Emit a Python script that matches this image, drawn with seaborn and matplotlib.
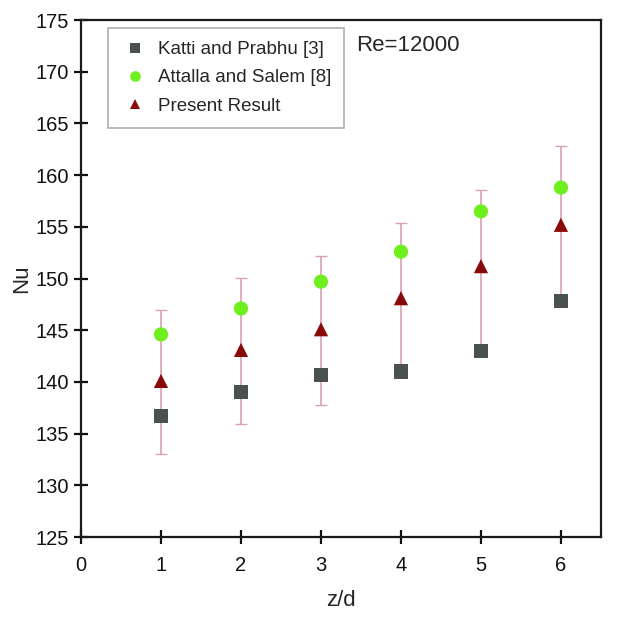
import matplotlib
matplotlib.use("Agg")
import matplotlib.pyplot as plt
import seaborn as sns
import pandas as pd

z_d = [1, 2, 3, 4, 5, 6]
katti = [136.7, 139.0, 140.7, 141.0, 143.0, 147.8]
attalla = [144.6, 147.1, 149.7, 152.6, 156.5, 158.8]
present = [140.1, 143.1, 145.1, 148.1, 151.2, 155.2]
err_low = [133.0, 135.9, 137.8, 141.0, 143.0, 147.8]
err_high = [147.0, 150.1, 152.2, 155.4, 158.6, 162.8]

sns.set_theme(style="white")
plt.rcParams['font.family'] = ['Liberation Sans', 'DejaVu Sans']

fig = plt.figure(figsize=(6.4, 6.27), dpi=100)
ax = fig.add_axes([0.1266, 0.1435, 0.8124, 0.8245])

lower = [p - l for p, l in zip(present, err_low)]
upper = [h - p for p, h in zip(present, err_high)]
ax.errorbar(z_d, present, yerr=[lower, upper], fmt='none', ecolor='#d9a3ae',
            elinewidth=1.2, capsize=4, capthick=1.0, zorder=1)

df = pd.DataFrame({
    'z/d': z_d * 3,
    'Nu': katti + attalla + present,
    'series': ['Katti and Prabhu [3]'] * 6 + ['Attalla and Salem [8]'] * 6 + ['Present Result'] * 6,
})
palette = {'Katti and Prabhu [3]': '#4b5050', 'Attalla and Salem [8]': '#6ef01e',
           'Present Result': '#8a0a0a'}
markers = {'Katti and Prabhu [3]': 's', 'Attalla and Salem [8]': 'o', 'Present Result': '^'}
sns.scatterplot(data=df, x='z/d', y='Nu', hue='series', style='series', palette=palette,
                markers=markers, s=105, linewidth=0, ax=ax, zorder=3)

ax.set_xlim(0, 6.5)
ax.set_ylim(125, 175)
ax.set_xticks([0, 1, 2, 3, 4, 5, 6])
ax.set_yticks(list(range(125, 176, 5)))
ax.tick_params(direction='inout', length=10, width=1.6, labelsize=14.5, colors='#111111',
               left=True, bottom=True)
ax.tick_params(axis='x', pad=9)
ax.tick_params(axis='y', pad=4)
for s in ax.spines.values():
    s.set_color('#1a1a1a')
    s.set_linewidth(1.6)
ax.set_xlabel('z/d', fontsize=16)
ax.set_ylabel('Nu', fontsize=16)
ax.xaxis.set_label_coords(0.5, -0.103)
ax.yaxis.set_label_coords(-0.094, 0.5)

leg = ax.legend(loc='upper left', bbox_to_anchor=(0.052, 0.985), fontsize=13.5,
                frameon=True, fancybox=False, edgecolor='#999999', handletextpad=0.45,
                handlelength=1.5, borderpad=0.7, labelspacing=0.6, markerscale=0.75,
                borderaxespad=0)
leg.get_frame().set_linewidth(1.2)
ax.text(0.530, 0.95, 'Re=12000', transform=ax.transAxes, fontsize=16, va='center', ha='left')

fig.savefig('out.png', dpi=100)
